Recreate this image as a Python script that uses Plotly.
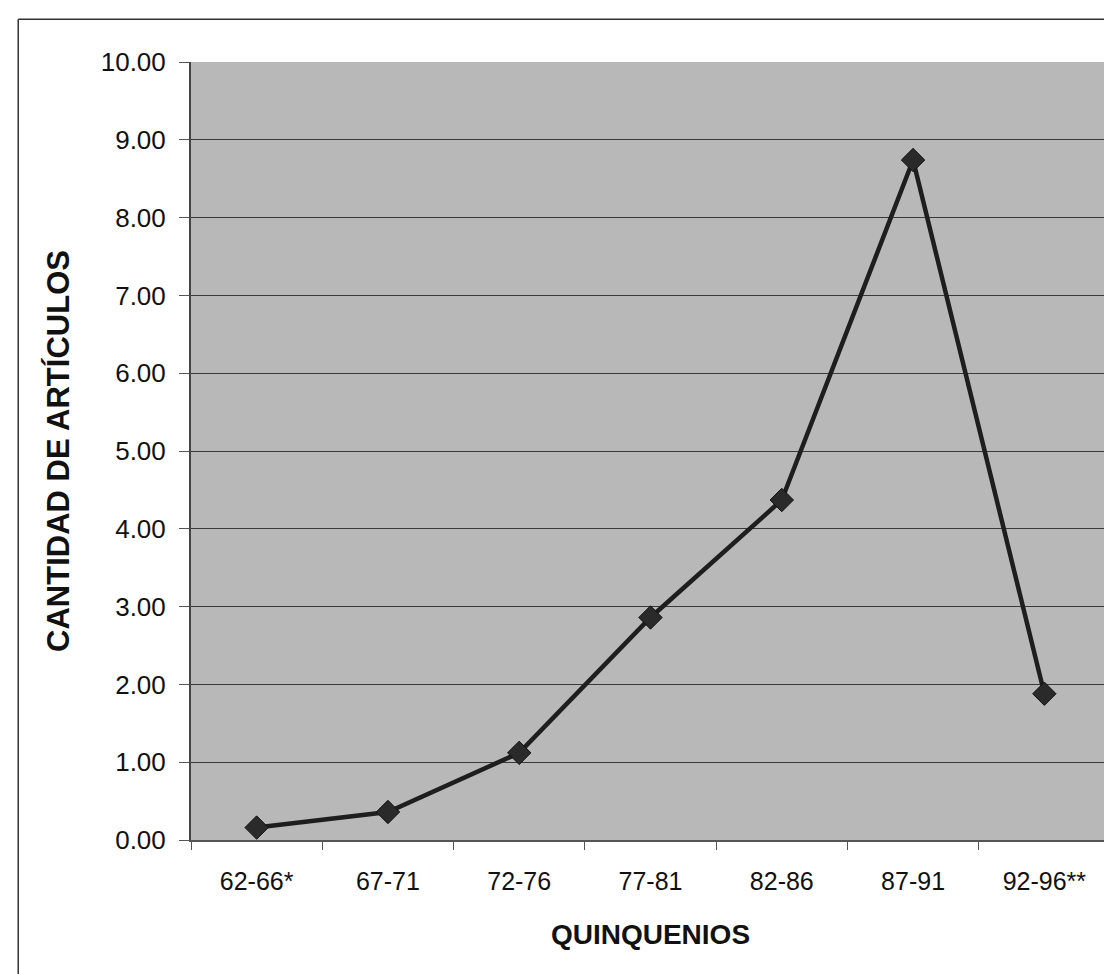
import plotly.graph_objects as go

categories = ["62-66*", "67-71", "72-76", "77-81", "82-86", "87-91", "92-96**"]
values = [0.16, 0.36, 1.12, 2.86, 4.37, 8.74, 1.88]
y_ticks = [0, 1, 2, 3, 4, 5, 6, 7, 8, 9, 10]
y_tick_labels = [f"{v:.2f}" for v in y_ticks]

fig = go.Figure()
fig.add_trace(go.Scatter(
    x=categories, y=values, mode="lines+markers",
    line=dict(color="#1e1e1e", width=4.5),
    marker=dict(symbol="diamond", size=18, color="#2a2a2a",
                line=dict(color="#111111", width=1)),
    showlegend=False,
))

fig.update_layout(
    width=1112, height=974,
    margin=dict(l=183, r=10, t=54, b=142),
    paper_bgcolor="white",
    plot_bgcolor="#b8b8b8",
    font=dict(family="Liberation Sans, Arial, sans-serif", color="#111111"),
    xaxis=dict(
        type="category", range=[-0.5, 6.5],
        tickson="boundaries", ticks="outside", ticklen=8, tickcolor="#555555",
        showline=True, linecolor="#555555", linewidth=2,
        showgrid=False,
        ticklabelstandoff=18,
        tickfont=dict(family="Liberation Sans Narrow, Arial Narrow, Liberation Sans, sans-serif", size=25, color="#111111"),
        title=dict(text="<b>QUINQUENIOS</b>", standoff=30,
                   font=dict(family="Liberation Sans Narrow, Arial Narrow, Liberation Sans, sans-serif", size=28, color="#111111")),
    ),
    yaxis=dict(
        range=[0, 10], tickvals=y_ticks, ticktext=y_tick_labels,
        ticks="outside", ticklen=10, tickcolor="#555555",
        showline=True, linecolor="#444444", linewidth=2,
        showgrid=True, gridcolor="#3a3a3a", gridwidth=1,
        zeroline=False,
        ticklabelstandoff=8,
        tickfont=dict(size=26, color="#111111"),
        title=dict(text="<b>CANTIDAD DE ARTÍCULOS</b>", standoff=22,
                   font=dict(size=31, color="#111111")),
    ),
)

# outer chart frame (top and left edges visible)
fig.add_shape(type="line", xref="paper", yref="paper", x0=-0.188, x1=1.01, y0=1.055, y1=1.055,
              line=dict(color="#333333", width=1.5))
fig.add_shape(type="line", xref="paper", yref="paper", x0=-0.188, x1=-0.188, y0=1.055, y1=-0.19,
              line=dict(color="#333333", width=1.5))

fig.write_html("out.html")
